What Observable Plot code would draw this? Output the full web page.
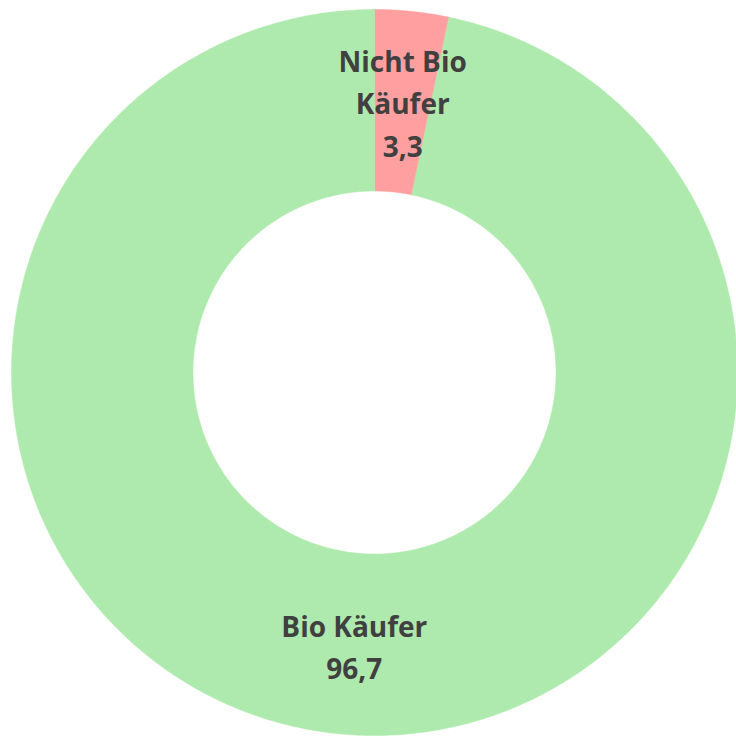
<!DOCTYPE html>
<html>
<head>
<meta charset="utf-8">
<script src="https://cdn.jsdelivr.net/npm/d3@7"></script>
<script src="https://cdn.jsdelivr.net/npm/@observablehq/plot@0.6"></script>
<style>
  html, body { margin: 0; padding: 0; background: #fff; }
  #chart svg { display: block; background: #fff; }
</style>
</head>
<body>
<div id="chart"></div>
<script>
// ---- data ----
const categories = ["Nicht Bio Käufer", "Bio Käufer"];
const labelLines = ["Nicht Bio\nKäufer", "Bio Käufer"];
const values = [3.3, 96.7];
const valueLabels = ["3,3", "96,7"];
const colors = ["#FF9F9F", "#AEEAAD"];

// ---- geometry (in data units, outer radius = 1) ----
const outerR = 1;
const innerR = 0.5;
const pie = d3.pie().sort(null).value(d => d)(values);

const polys = [];
pie.forEach((p, i) => {
  const n = Math.max(4, Math.ceil((p.endAngle - p.startAngle) / 0.01));
  for (let k = 0; k <= n; k++) {
    const a = p.startAngle + (p.endAngle - p.startAngle) * k / n;
    polys.push({cat: categories[i], x: outerR * Math.sin(a), y: outerR * Math.cos(a)});
  }
  for (let k = n; k >= 0; k--) {
    const a = p.startAngle + (p.endAngle - p.startAngle) * k / n;
    polys.push({cat: categories[i], x: innerR * Math.sin(a), y: innerR * Math.cos(a)});
  }
});

const labelData = pie.map((p, i) => {
  const a = (p.startAngle + p.endAngle) / 2;
  const r = (outerR + innerR) / 2;
  return {
    cat: categories[i],
    x: r * Math.sin(a),
    y: r * Math.cos(a),
    text: labelLines[i] + "\n" + valueLabels[i]
  };
});

const textStyle = {
  x: "x", y: "y", text: "text",
  fill: "#404040",
  fontSize: 28,
  fontWeight: "bold",
  fontFamily: "Open Sans",
  lineHeight: 1.52
};

const chart = Plot.plot({
  width: 736,
  height: 737,
  margin: 0,
  style: {background: "#fff"},
  x: {domain: [-374 / 363, 362 / 363], axis: null},
  y: {domain: [-365 / 363, 372 / 363], axis: null},
  color: {domain: categories, range: colors},
  marks: [
    Plot.line(polys, {
      x: "x", y: "y", z: "cat",
      fill: d => d.cat,
      stroke: d => d.cat,
      strokeWidth: 0.5,
      curve: "linear-closed"
    }),
    Plot.text(labelData.filter(d => d.cat === categories[0]), {...textStyle, dx: 0, dy: -1}),
    Plot.text(labelData.filter(d => d.cat === categories[1]), {...textStyle, dx: 8, dy: 1})
  ]
});
document.getElementById("chart").appendChild(chart);
</script>
</body>
</html>
